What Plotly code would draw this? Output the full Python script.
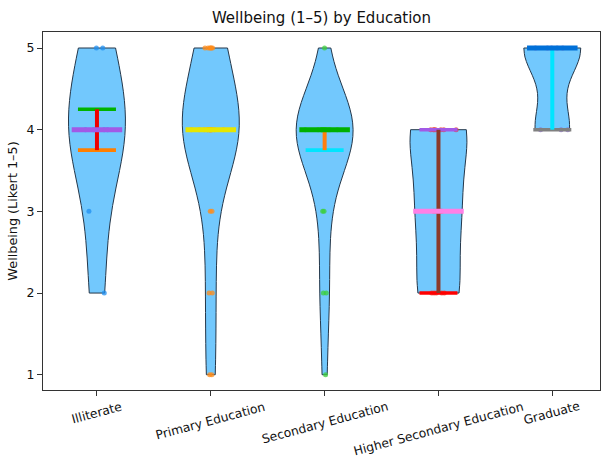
import numpy as np
import plotly.graph_objects as go

categories = ["Illiterate", "Primary Education", "Secondary Education",
              "Higher Secondary Education", "Graduate"]

# Wellbeing responses (Likert 1-5) per education group
illiterate = [2, 3, 4, 4, 4, 4, 5, 5]
primary = [1, 1, 2, 2, 3, 3, 4, 4, 4, 4, 4, 4, 4, 4, 4, 4, 4, 4, 4, 4,
           5, 5, 5, 5, 5, 5]
secondary = [1, 2, 2, 3, 3, 4, 4, 4, 4, 4, 4, 4, 4, 4, 4, 4, 4, 4, 4, 5]
higher_secondary = [2, 2, 2, 2, 2, 3, 3, 3, 3, 3, 4, 4, 4, 4, 4, 4, 4]
graduate = [4, 4, 4, 5, 5, 5, 5, 5]

y_ticks = [1, 2, 3, 4, 5]

series = [illiterate, primary, secondary, higher_secondary, graduate]

point_colors = ["#1f8ff0", "#ff8c1a", "#3ccf3c", "#e8443a", "#8c6bd0"]
q1_colors = ["#ff7f00", "#ff7f00", "#00e5ff", "#ff0000", "#808080"]
q3_colors = ["#00b300", "#00b300", "#00b300", "#a259e6", "#0070d8"]
iqr_colors = ["#ee0000", "#ff7f0e", "#ff7f0e", "#8b3a2b", "#00e5ff"]
median_colors = ["#a259e6", "#e6e600", "#00b000", "#ff80e6", "#0070d8"]

FONT = "DejaVu Sans"
fig = go.Figure()

for i, vals in enumerate(series):
    v = np.asarray(vals, dtype=float)
    bw = np.std(v, ddof=1) * len(v) ** (-0.2)
    fig.add_trace(go.Violin(
        x0=i, y=v, name=categories[i], orientation="v",
        width=0.5, scalemode="width", spanmode="hard", bandwidth=bw,
        side="both", box_visible=False, meanline_visible=False,
        fillcolor="#72c8fd", opacity=1,
        line=dict(color="#24374a", width=1),
        points="all", jitter=0.7, pointpos=0,
        marker=dict(color=point_colors[i], size=5, opacity=0.75,
                    line=dict(width=0)),
        hoverinfo="skip", showlegend=False,
    ))

for i, vals in enumerate(series):
    v = np.asarray(vals, dtype=float)
    q1, med, q3 = np.percentile(v, [25, 50, 75])
    qw, mw = 0.167, 0.222
    fig.add_trace(go.Scatter(x=[i - qw, i + qw], y=[q1, q1], mode="lines",
                             line=dict(color=q1_colors[i], width=3.6),
                             showlegend=False, hoverinfo="skip"))
    fig.add_trace(go.Scatter(x=[i - qw, i + qw], y=[q3, q3], mode="lines",
                             line=dict(color=q3_colors[i], width=3.6),
                             showlegend=False, hoverinfo="skip"))
    fig.add_trace(go.Scatter(x=[i, i], y=[q1, q3], mode="lines",
                             line=dict(color=iqr_colors[i], width=4),
                             showlegend=False, hoverinfo="skip"))
    fig.add_trace(go.Scatter(x=[i - mw, i + mw], y=[med, med], mode="lines",
                             line=dict(color=median_colors[i], width=5),
                             showlegend=False, hoverinfo="skip"))

for i, name in enumerate(categories):
    fig.add_annotation(x=i, xref="x", y=0, yref="paper", text=name,
                       showarrow=False, textangle=-15, xanchor="center",
                       yanchor="top", yshift=-8, borderpad=0,
                       font=dict(family=FONT, size=12.3, color="#111"))

fig.update_layout(
    width=603, height=459,
    margin=dict(l=43, r=3, t=32, b=69),
    paper_bgcolor="white", plot_bgcolor="white",
    violinmode="overlay",
    showlegend=False,
    font=dict(family=FONT, size=12.5, color="#111"),
    title=dict(text="Wellbeing (1–5) by Education", x=0.5, xref="paper",
               y=1 - 18 / 459, yref="container", yanchor="middle",
               xanchor="center", font=dict(family=FONT, size=15, color="#111")),
    xaxis=dict(range=[-0.474, 4.419], tickvals=list(range(len(categories))),
               showticklabels=False, ticks="outside", ticklen=5,
               tickcolor="#333", showline=True, linecolor="#333",
               linewidth=1, mirror=True, showgrid=False, zeroline=False),
    yaxis=dict(range=[0.813, 5.196], tickvals=y_ticks,
               ticktext=[str(t) for t in y_ticks],
               ticks="outside", ticklen=5, tickcolor="#333",
               showline=True, linecolor="#333", linewidth=1, mirror=True,
               showgrid=False, zeroline=False,
               title=dict(text="Wellbeing (Likert 1–5)", standoff=6,
                          font=dict(family=FONT, size=12.8, color="#111"))),
)

fig.write_html("out.html",
               config={"displayModeBar": False, "staticPlot": True},
               post_script="document.body.style.margin='0px';"
                           "document.body.style.overflow='hidden';")
